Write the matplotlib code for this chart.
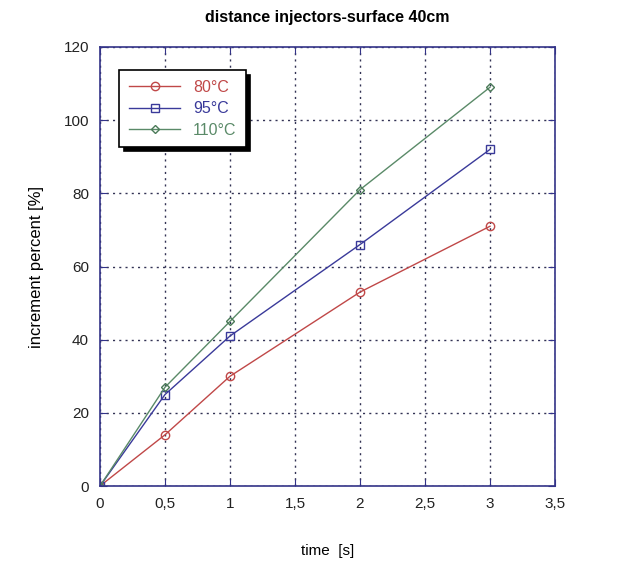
import matplotlib.pyplot as plt
from matplotlib.ticker import FuncFormatter

plt.rcParams['font.family'] = ['Liberation Sans', 'DejaVu Sans']

# Datos leídos: incremento porcentual vs tiempo
time_s = [0, 0.5, 1, 2, 3]
inc_80 = [0, 14, 30, 53, 71]
inc_95 = [0, 25, 41, 66, 92]
inc_110 = [0, 27, 45, 81, 109]

navy = '#333388'

fig = plt.figure(figsize=(6.35, 5.62), dpi=100)
ax = fig.add_axes([100 / 635, 76 / 562, 455 / 635, 439 / 562])

ax.plot(time_s, inc_80, color='#c04848', lw=1.0, marker='o', ms=6,
        mfc='none', mec='#c04848', mew=1.0, label='80°C')
ax.plot(time_s, inc_95, color='#3a3a9a', lw=1.0, marker='s', ms=6,
        mfc='none', mec='#3a3a9a', mew=1.0, label='95°C')
ax.plot(time_s, inc_110, color='#5a8a68', lw=1.0, marker='D', ms=4,
        mfc='none', mec='#4a7a58', mew=1.0, label='110°C')

ax.set_xlim(0, 3.5)
ax.set_ylim(0, 120)
ax.set_xticks([0, 0.5, 1, 1.5, 2, 2.5, 3, 3.5])
ax.set_yticks([0, 20, 40, 60, 80, 100, 120])
ax.xaxis.set_major_formatter(FuncFormatter(lambda v, p: f'{v:g}'.replace('.', ',')))

ax.grid(True, color='#333355', linestyle=(0, (1.5, 3)), lw=1.0)
for s in ax.spines.values():
    s.set_color(navy)
    s.set_linewidth(1.2)
ax.tick_params(direction='in', top=True, right=True, length=5, color=navy,
               labelsize=11, labelcolor='#222222', pad=8)

ax.set_xlabel('time  [s]', fontsize=11, labelpad=24)
ax.set_ylabel('increment percent [%]', fontsize=12, labelpad=14)
ax.set_title('distance injectors-surface 40cm', fontsize=11.5,
             fontweight='bold', pad=18)

# Leyenda con sombra negra
leg = ax.legend(loc='upper left', bbox_to_anchor=(0.025, 0.965), fontsize=11.5,
                fancybox=False, framealpha=1, edgecolor='black',
                shadow={'facecolor': 'black', 'edgecolor': 'black', 'alpha': 1,
                        'ox': 3, 'oy': -3},
                handlelength=3.2, borderpad=0.6, labelspacing=0.4)
leg.get_frame().set_linewidth(1.2)
for line, text in zip(leg.get_lines(), leg.get_texts()):
    text.set_color(line.get_color())

fig.savefig('out.png', dpi=100)
